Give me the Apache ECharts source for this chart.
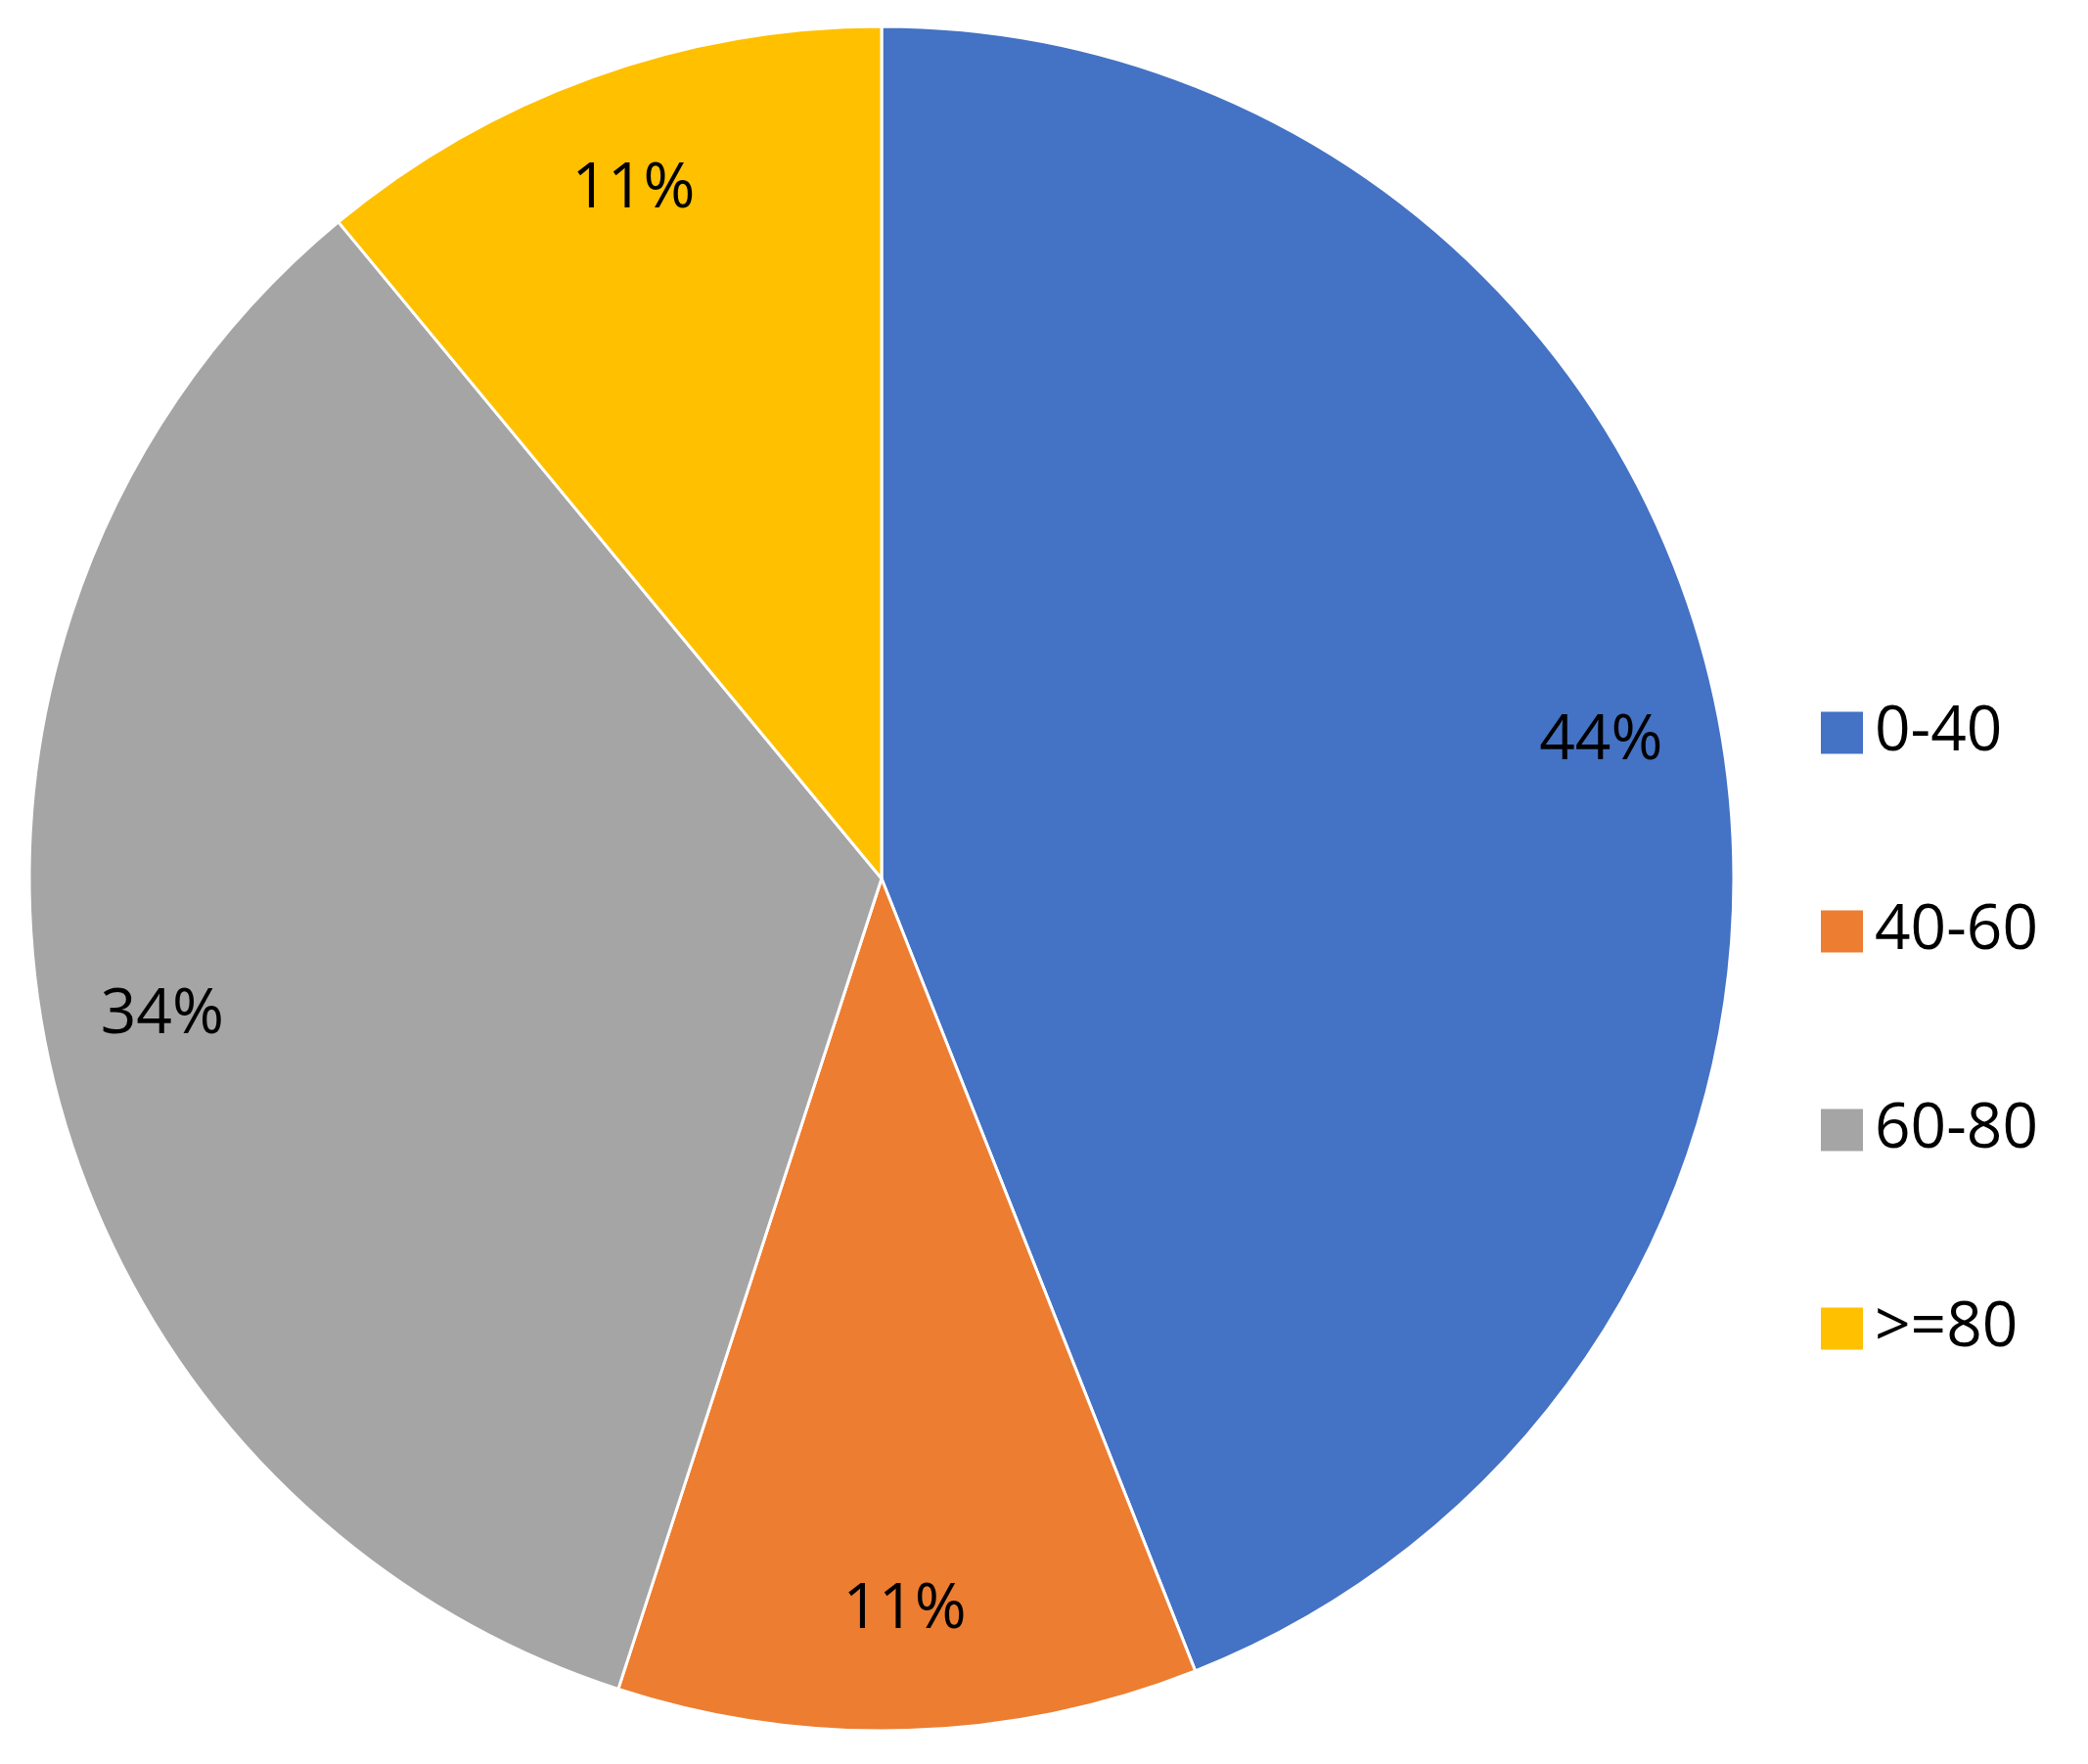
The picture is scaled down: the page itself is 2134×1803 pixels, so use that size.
<!DOCTYPE html>
<html>
<head>
<meta charset="utf-8">
<script src="https://cdn.jsdelivr.net/npm/echarts@6/dist/echarts.min.js"></script>
<style>html,body{margin:0;background:#fff}#chart{width:2134px;height:1803px}</style>
</head>
<body>
<div id="chart"></div>
<script>
var categories = ['0-40', '40-60', '60-80', '>=80'];
var shares = [44, 11, 34, 11];
var colors = ['#4472C4', '#ED7D31', '#A5A5A5', '#FFC000'];

var pieData = categories.map(function (c, i) {
    return { name: c, value: shares[i], itemStyle: { color: colors[i] } };
});

var myChart = echarts.init(document.getElementById('chart'));
myChart.setOption({
    animation: false,
    legend: {
        orient: 'vertical',
        left: 1854,
        top: 712,
        itemWidth: 45,
        itemHeight: 45,
        itemGap: 139,
        icon: 'rect',
        textStyle: { fontSize: 64, fontFamily: 'Open Sans', color: '#000', padding: [0, 0, 0, 6] },
        data: categories
    },
    series: [
        {
            type: 'pie',
            center: [901, 898],
            radius: [0, 871],
            startAngle: 90,
            clockwise: true,
            label: { show: false },
            itemStyle: { borderColor: '#fff', borderWidth: 3 },
            data: pieData
        },
        {
            type: 'pie',
            center: [901, 898],
            radius: [620, 871],
            startAngle: 90,
            clockwise: true,
            silent: true,
            legendHoverLink: false,
            itemStyle: { color: 'transparent' },
            label: {
                show: true,
                position: 'inside',
                formatter: '{c}%',
                fontSize: 64,
                fontFamily: 'Open Sans',
                color: '#000'
            },
            data: categories.map(function (c, i) { return { name: c + ' ', value: shares[i] }; })
        }
    ]
});
</script>
</body>
</html>
